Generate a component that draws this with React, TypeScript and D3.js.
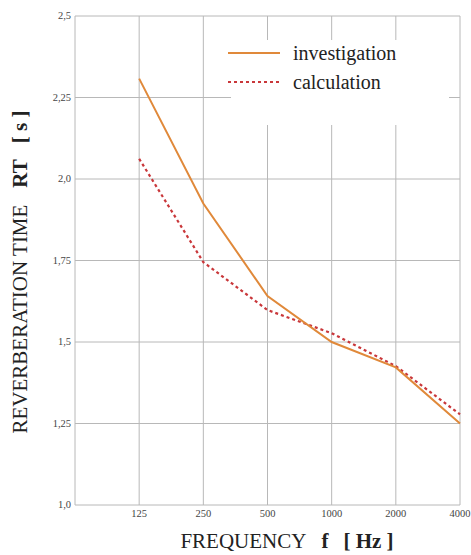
import React from "react";
import * as d3 from "d3";

const categories = ["125", "250", "500", "1000", "2000", "4000"];
const investigation = [2.308, 1.925, 1.641, 1.5, 1.422, 1.25];
const calculation = [2.062, 1.745, 1.598, 1.527, 1.426, 1.278];
const yTicks = [1.0, 1.25, 1.5, 1.75, 2.0, 2.25, 2.5];
const yTickLabels = ["1,0", "1,25", "1,5", "1,75", "2,0", "2,25", "2,5"];

const W = 471;
const H = 555;
const left = 75;
const right = 460;
const top = 16;
const bottom = 505;

export default function App() {
  const x = d3.scaleLinear().domain([0, categories.length]).range([left, right]);
  const y = d3.scaleLinear().domain([1.0, 2.5]).range([bottom, top]);
  const line = d3
    .line<number>()
    .x((_, i) => x(i + 1))
    .y((d) => y(d));
  const font = '"Liberation Serif", "DejaVu Serif", serif';
  const grid = "#b8b8b8";
  const orange = "#e0893a";
  const red = "#c9373a";
  const ts = { fontFamily: font };
  return (
    <svg
      width={W}
      height={H}
      style={{ position: "absolute", left: 0, top: 0, background: "#fff", fontFamily: font }}
    >
      <rect x={0} y={0} width={W} height={H} fill="#fff" />
      {yTicks.map((t) => (
        <line key={"h" + t} x1={left} x2={right} y1={y(t)} y2={y(t)} stroke={grid} strokeWidth={1} />
      ))}
      <line x1={left} x2={left} y1={top} y2={bottom} stroke={grid} strokeWidth={1} />
      {categories.map((c, i) => (
        <line key={"v" + c} x1={x(i + 1)} x2={x(i + 1)} y1={top} y2={bottom} stroke={grid} strokeWidth={1} />
      ))}
      <rect x={231} y={40} width={218} height={85} fill="#fff" />
      <path d={line(calculation) || ""} fill="none" stroke={red} strokeWidth={2.2} strokeDasharray="3,3" />
      <path d={line(investigation) || ""} fill="none" stroke={orange} strokeWidth={2} />
      <line x1={228} x2={280} y1={53} y2={53} stroke={orange} strokeWidth={2} />
      <text x={293} y={60} fontSize={20} fill="#222" style={ts}>investigation</text>
      <line x1={228} x2={280} y1={82} y2={82} stroke={red} strokeWidth={2.2} strokeDasharray="3,3" />
      <text x={293} y={89} fontSize={20} fill="#222" style={ts}>calculation</text>
      {yTicks.map((t, i) => (
        <text key={"yl" + t} x={71} y={y(t)} dy="0.32em" fontSize={10.5} textAnchor="end" fill="#444" style={ts}>
          {yTickLabels[i]}
        </text>
      ))}
      {categories.map((c, i) => (
        <text key={"xl" + c} x={x(i + 1)} y={517} fontSize={10.5} textAnchor="middle" fill="#444" style={ts}>
          {c}
        </text>
      ))}
      <text x={287} y={548} fontSize={21} textAnchor="middle" fill="#222" style={ts}>
        <tspan>FREQUENCY</tspan>
        <tspan fontWeight="bold" dx={15}>f</tspan>
        <tspan fontWeight="bold" dx={15}>[ Hz ]</tspan>
      </text>
      <text transform="translate(27,272) rotate(-90)" fontSize={21} textAnchor="middle" fill="#222" style={ts}>
        <tspan>REVERBERATION TIME</tspan>
        <tspan fontWeight="bold" dx={17}>RT</tspan>
        <tspan fontWeight="bold" dx={16}>[ s ]</tspan>
      </text>
    </svg>
  );
}
